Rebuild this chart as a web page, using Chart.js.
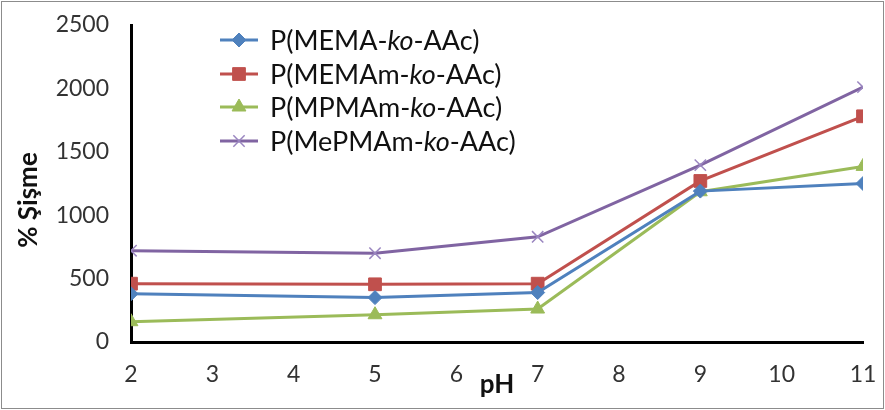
<!DOCTYPE html>
<html>
<head>
<meta charset="utf-8">
<script src="https://cdn.jsdelivr.net/npm/chart.js@4.4.0/dist/chart.umd.min.js"></script>
<style>
  html, body { margin: 0; padding: 0; background: #fff; }
  #wrap { width: 885px; height: 410px; position: relative; }
</style>
</head>
<body>
<div id="wrap"><canvas id="chart" width="885" height="410"></canvas></div>
<script>
// pH values where swelling was measured
const phValues = [2, 5, 7, 9, 11];
const xTicks = [2, 3, 4, 5, 6, 7, 8, 9, 10, 11];
const yTicks = [0, 500, 1000, 1500, 2000, 2500];

const polymerNames = ['MEMA', 'MEMAm', 'MPMAm', 'MePMAm'];

// % swelling per polymer
const memaVals = [380, 350, 390, 1190, 1250];
const memamVals = [460, 455, 460, 1270, 1780];
const mpmamVals = [160, 215, 260, 1185, 1385];
const mepmamVals = [720, 700, 830, 1395, 2010];

const yTitle = '% Şişme';

const seriesColors = ['#4f81bd', '#c0504d', '#9bbb59', '#8064a2'];
const markerStyles = ['rectRot', 'rect', 'triangle', 'crossRot'];
const markerSizes = [7, 9, 8, 8];

const fontFamily = 'Lato, "Open Sans", sans-serif';

function toPoints(vals) {
    return phValues.map((x, i) => ({ x: x, y: vals[i] }));
}

const allVals = [memaVals, memamVals, mpmamVals, mepmamVals];

const datasets = allVals.map((vals, i) => ({
    label: 'P(' + polymerNames[i] + '-ko-AAc)',
    data: toPoints(vals),
    borderColor: seriesColors[i],
    backgroundColor: seriesColors[i],
    pointBorderColor: i === 3 ? '#9a86c0' : seriesColors[i],
    borderWidth: 3,
    pointStyle: markerStyles[i],
    pointRadius: markerSizes[i],
    pointBorderWidth: i === 3 ? 1.5 : 1,
    tension: 0,
    fill: false
}));

// outer frame + rotated y title (sits a bit below the plot centre)
const framePlugin = {
    id: 'frame',
    afterDraw(chart) {
        const ctx = chart.ctx;
        ctx.save();
        ctx.strokeStyle = '#8c8c8c';
        ctx.lineWidth = 1;
        ctx.strokeRect(1.5, 1.5, chart.width - 3, chart.height - 3);

        ctx.translate(29, 200);
        ctx.rotate(-Math.PI / 2);
        ctx.fillStyle = '#111';
        ctx.font = 'bold 26px ' + fontFamily;
        ctx.textAlign = 'center';
        ctx.textBaseline = 'middle';
        ctx.fillText(yTitle, 0, 0);
        ctx.restore();
    }
};

// legend with italic "ko"
const legendPlugin = {
    id: 'koLegend',
    afterDraw(chart) {
        const ctx = chart.ctx;
        const x0 = 220, x1 = 258, tx = 270;
        const rowY = [40, 74, 107, 141];
        ctx.save();
        chart.data.datasets.forEach((ds, i) => {
            const y = rowY[i];
            ctx.strokeStyle = ds.borderColor;
            ctx.lineWidth = 3;
            ctx.beginPath();
            ctx.moveTo(x0, y);
            ctx.lineTo(x1, y);
            ctx.stroke();
            ctx.fillStyle = ds.backgroundColor;
            ctx.strokeStyle = ds.pointBorderColor;
            ctx.lineWidth = ds.pointBorderWidth;
            Chart.helpers.drawPoint(ctx, {
                pointStyle: ds.pointStyle,
                radius: ds.pointRadius,
                rotation: 0,
                borderWidth: ds.pointBorderWidth
            }, (x0 + x1) / 2, y);

            const parts = ds.label.split('-ko-');
            const pieces = [
                { t: parts[0] + '-', italic: false },
                { t: 'ko', italic: true },
                { t: '-' + parts[1], italic: false }
            ];
            let x = tx;
            ctx.fillStyle = '#111';
            ctx.textBaseline = 'middle';
            ctx.textAlign = 'left';
            pieces.forEach(p => {
                ctx.font = (p.italic ? 'italic ' : '') + '27px ' + fontFamily;
                ctx.fillText(p.t, x, y + 1);
                x += ctx.measureText(p.t).width;
            });
        });
        ctx.restore();
    }
};

new Chart(document.getElementById('chart'), {
    type: 'line',
    data: { datasets: datasets },
    options: {
        responsive: false,
        animation: false,
        layout: { padding: { top: 25, right: 22, left: 0, bottom: 0 } },
        scales: {
            x: {
                type: 'linear',
                min: 2,
                max: 11,
                afterBuildTicks(scale) {
                    scale.ticks = xTicks.map(v => ({ value: v }));
                },
                afterFit(scale) {
                    scale.height = 68;
                    scale.paddingLeft = 0;
                    scale.paddingRight = 0;
                },
                grid: { display: false, drawTicks: false },
                border: { display: true, color: '#000', width: 3 },
                ticks: {
                    color: '#333',
                    padding: 19,
                    font: { family: fontFamily, size: 23 },
                    callback: v => String(v)
                },
                title: {
                    display: true,
                    text: 'pH',
                    color: '#111',
                    padding: { top: 0, bottom: 10 },
                    font: { family: fontFamily, size: 26, weight: 'bold' }
                }
            },
            y: {
                min: 0,
                max: 2500,
                afterBuildTicks(scale) {
                    scale.ticks = yTicks.map(v => ({ value: v }));
                },
                afterFit(scale) {
                    scale.width = 131;
                    scale.paddingTop = 0;
                    scale.paddingBottom = 0;
                },
                grid: { display: false, drawTicks: false },
                border: { display: true, color: '#000', width: 3 },
                ticks: {
                    color: '#333',
                    padding: 22,
                    font: { family: fontFamily, size: 23 },
                    callback: v => String(v)
                },
                title: { display: false }
            }
        },
        plugins: {
            legend: { display: false },
            tooltip: { enabled: false }
        }
    },
    plugins: [legendPlugin, framePlugin]
});
</script>
</body>
</html>
